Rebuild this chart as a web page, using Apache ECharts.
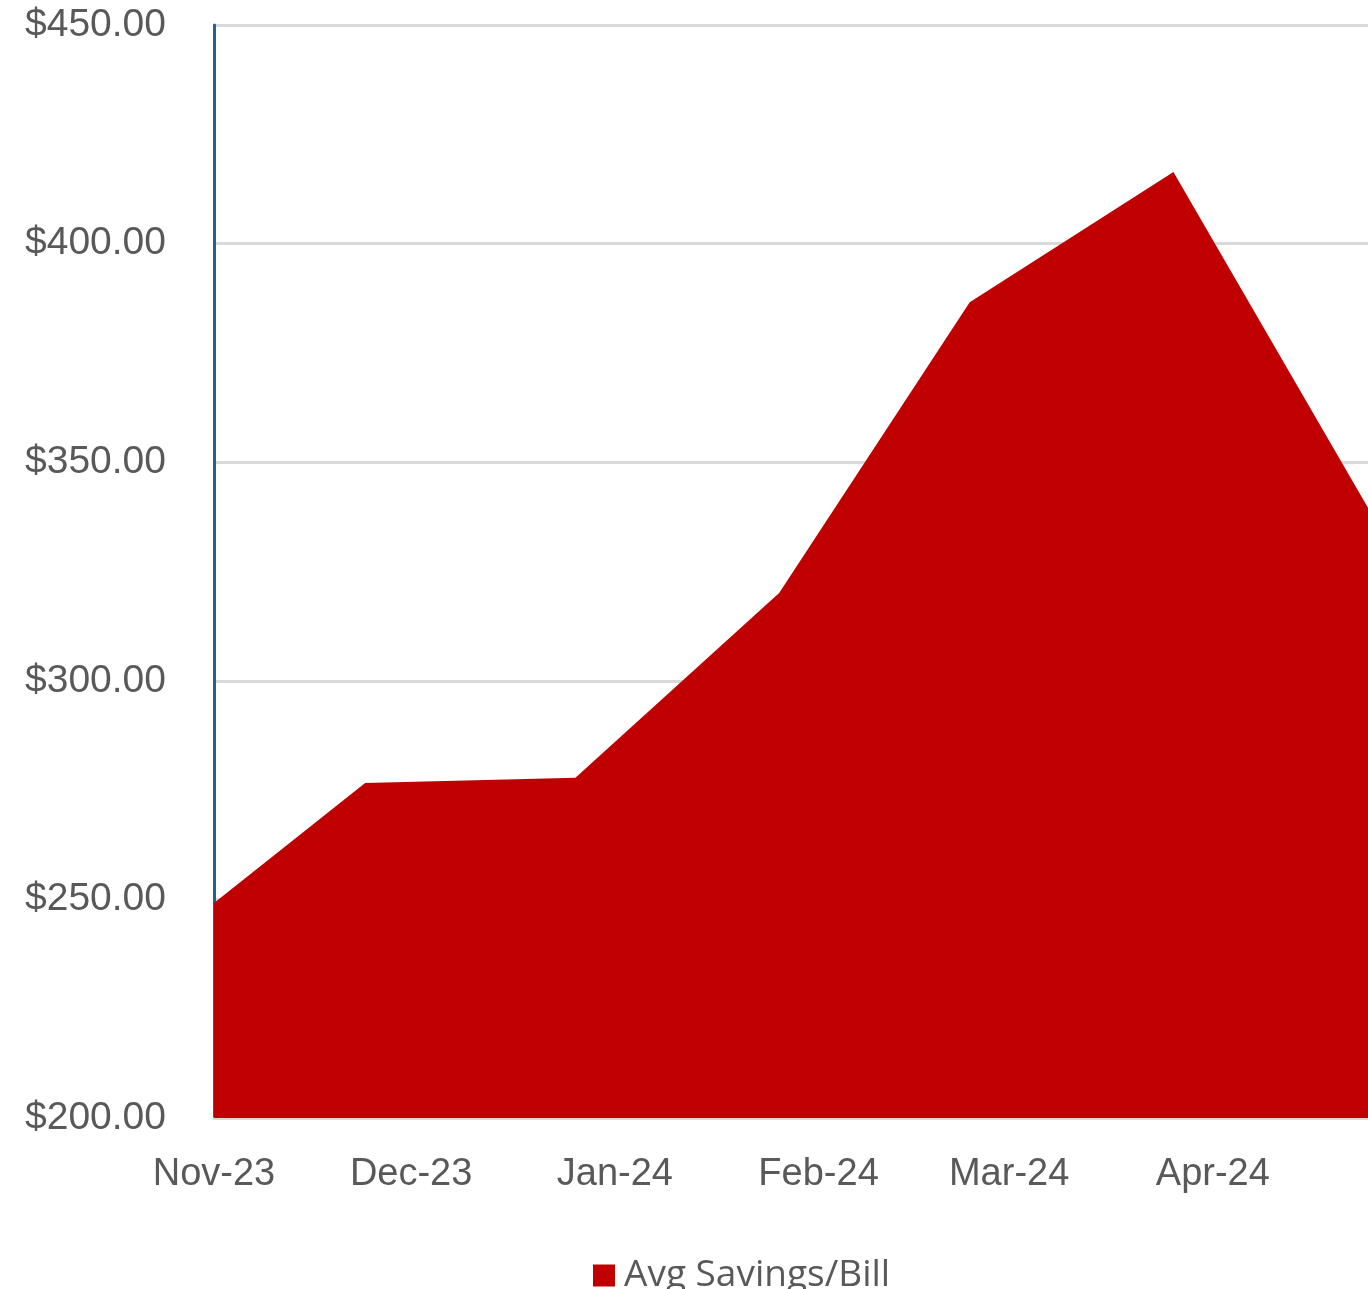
<!DOCTYPE html>
<html>
<head>
<meta charset="utf-8">
<script src="https://cdn.jsdelivr.net/npm/echarts@6/dist/echarts.min.js"></script>
<style>
html, body { margin: 0; padding: 0; background: #fff; }
#main { width: 1368px; height: 1289px; }
</style>
</head>
<body>
<div id="main"></div>
<script>
var chart = echarts.init(document.getElementById('main'));

// data
var dates = ['2023-11-01', '2023-11-24', '2023-12-26', '2024-01-26', '2024-02-24', '2024-03-26', '2024-04-26'];
var savings = [249.2, 276.6, 277.8, 320.1, 386.6, 416.4, 336];
var monthLabels = ['Nov-23', 'Dec-23', 'Jan-24', 'Feb-24', 'Mar-24', 'Apr-24'];

var data = dates.map(function (d, i) { return [d, savings[i]]; });
var day = 24 * 3600 * 1000;

option = {
    animation: false,
    textStyle: { fontFamily: 'Liberation Sans, Arial, sans-serif' },
    legend: {
        top: 1252,
        left: 588,
        itemWidth: 22,
        itemHeight: 22,
        itemGap: 10,
        icon: 'rect',
        data: ['Avg Savings/Bill'],
        textStyle: { color: '#595959', fontSize: 37, fontFamily: 'Open Sans, sans-serif', padding: [0, 0, 0, 4] }
    },
    grid: {
        left: 214,
        right: -42,
        top: 25,
        bottom: 171,
        containLabel: false,
        outerBoundsMode: 'none'
    },
    xAxis: {
        type: 'time',
        min: '2023-11-01',
        max: '2024-05-01',
        minInterval: 28 * day,
        maxInterval: 31 * day,
        axisLine: { show: true, lineStyle: { color: '#d9d9d9', width: 3 } },
        axisTick: { show: false },
        splitLine: { show: false },
        axisLabel: {
            color: '#595959',
            fontSize: 38,
            margin: 38,
            hideOverlap: false,
            formatter: function (v) {
                var d = new Date(v);
                var idx = (d.getFullYear() - 2023) * 12 + d.getMonth() - 10;
                return monthLabels[idx] || '';
            }
        }
    },
    yAxis: {
        type: 'value',
        min: 200,
        max: 450,
        interval: 50,
        axisLine: { show: true, lineStyle: { color: '#1f6391', width: 3 } },
        axisTick: { show: false },
        splitLine: { lineStyle: { color: '#d9d9d9', width: 3 } },
        axisLabel: {
            color: '#595959',
            fontSize: 39,
            margin: 48,
            formatter: function (v) { return '$' + v.toFixed(2); }
        }
    },
    series: [{
        name: 'Avg Savings/Bill',
        type: 'line',
        data: data,
        symbol: 'none',
        lineStyle: { width: 0, color: '#c00000' },
        itemStyle: { color: '#c00000' },
        areaStyle: { color: '#c00000', opacity: 1 },
        z: 1
    }]
};

chart.setOption(option);
</script>
</body>
</html>
